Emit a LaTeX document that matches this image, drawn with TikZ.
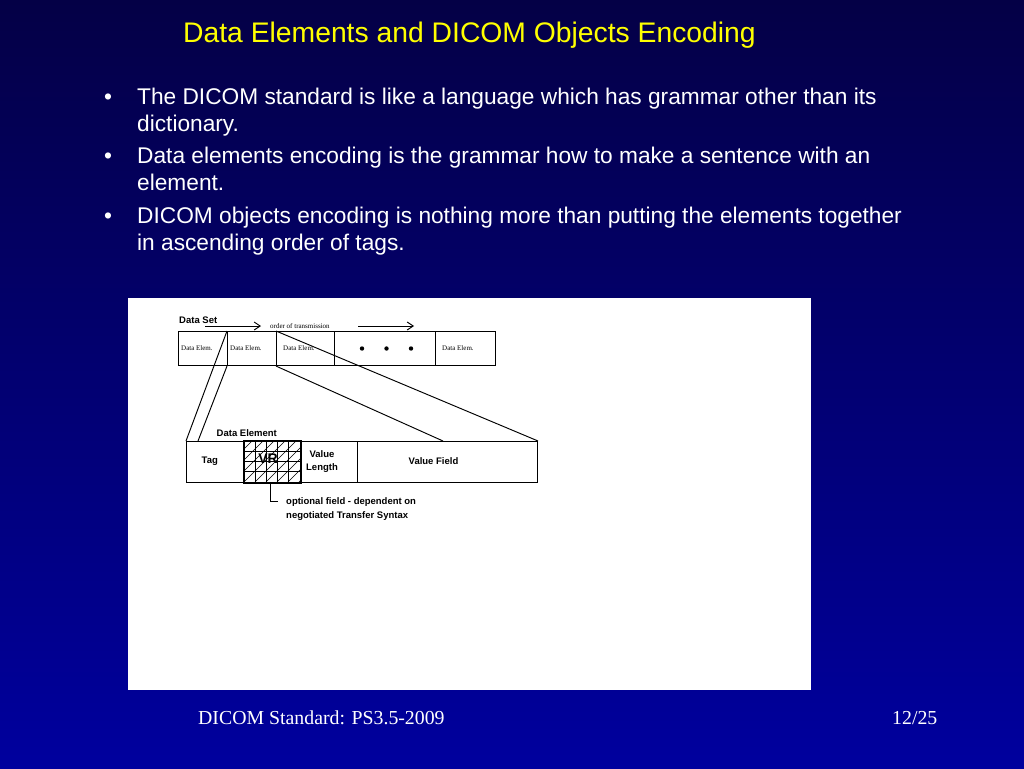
\documentclass[tikz,border=0pt]{standalone}
\usepackage{fontspec}
\setmainfont{Liberation Serif}
\setsansfont{Liberation Sans}
\usetikzlibrary{arrows.meta}
\definecolor{bgtop}{RGB}{4,0,70}
\definecolor{bgbot}{RGB}{0,0,158}
\definecolor{ttl}{RGB}{255,255,0}
\begin{document}
\begin{tikzpicture}[x=1pt,y=-1pt,
  cell/.style={draw=black, line width=1.05pt, rectangle, inner sep=0pt, anchor=north west},
  tiny/.style={font=\fontsize{7}{8}\selectfont\rmfamily, inner sep=0pt, anchor=base west},
  lab/.style={font=\fontsize{9.5}{11}\selectfont\sffamily\bfseries, inner sep=0pt},
  link/.style={draw=black, line width=0.95pt},
  body/.style={font=\fontsize{22.7}{27}\selectfont\sffamily, text=white, inner sep=0pt, anchor=base west},
  foot/.style={font=\fontsize{19.8}{24}\selectfont\rmfamily, text=white, inner sep=0pt, anchor=base west},
  hatch/.style={draw=black, line width=0.6pt},
]
\useasboundingbox (0,0) rectangle (1024,768);
\shade[top color=bgtop, bottom color=bgbot] (0,0) rectangle (1024,768);

% title
\node[anchor=base west, text=ttl, font=\fontsize{28.3}{30}\selectfont\sffamily, inner sep=0pt] (title) at (183,43) {Data Elements and DICOM Objects Encoding};

% bullets
\node[body] (b1) at (104,104) {\textbullet};
\node[body] (l1a) at (137,104) {The DICOM standard is like a language which has grammar other than its};
\node[body] (l1b) at (137,131) {dictionary.};
\node[body] (b2) at (104,163) {\textbullet};
\node[body] (l2a) at (137,163) {Data elements encoding is the grammar how to make a sentence with an};
\node[body] (l2b) at (137,190) {element.};
\node[body] (b3) at (104,223) {\textbullet};
\node[body] (l3a) at (137,223) {DICOM objects encoding is nothing more than putting the elements together};
\node[body] (l3b) at (137,250) {in ascending order of tags.};

% white panel
\node[fill=white, draw=none, inner sep=0pt, anchor=north west, minimum width=683pt, minimum height=392pt] (panel) at (128,298) {};

% data set row
\node[lab, anchor=base west] (ds) at (179,323.5) {Data Set};
\coordinate (a1s) at (205,326); \coordinate (a1e) at (261,326);
\coordinate (a2s) at (358,326); \coordinate (a2e) at (414,326);
\draw[link, -{Straight Barb[length=6pt,width=8pt]}] (a1s) -- (a1e);
\draw[link, -{Straight Barb[length=6pt,width=8pt]}] (a2s) -- (a2e);
\node[tiny] (ord) at (270,328.5) {order of transmission};

\node[cell, minimum width=49pt, minimum height=34pt] (c1) at (178,331) {};
\node[cell, minimum width=49pt, minimum height=34pt] (c2) at (227,331) {};
\node[cell, minimum width=58pt, minimum height=34pt] (c3) at (276,331) {};
\node[cell, minimum width=101pt, minimum height=34pt] (c4) at (334,331) {};
\node[cell, minimum width=60pt, minimum height=34pt] (c5) at (435,331) {};
\node[tiny] (t1) at (181,350) {Data Elem.};
\node[tiny] (t2) at (230,350) {Data Elem.};
\node[tiny] (t3) at (283,350) {Data Elem.};
\node[tiny] (t5) at (442,350) {Data Elem.};
\fill (362,348.5) circle (2.2pt);
\fill (386.5,348.5) circle (2.2pt);
\fill (411,348.5) circle (2.2pt);

% data element row
\node[lab, anchor=base west] (delab) at (216.5,436.5) {Data Element};
\node[cell, minimum width=58pt, minimum height=41pt] (tag) at (186,441) {};
\node[cell, minimum width=56pt, minimum height=41pt] (vr) at (244,441) {};
\node[cell, minimum width=57pt, minimum height=41pt] (vl) at (300,441) {};
\node[cell, minimum width=180pt, minimum height=41pt] (vf) at (357,441) {};

\begin{scope}
  \clip (244,441) rectangle (300,482);
  \foreach \k in {-4,...,5} \draw[hatch] (244+\k*11,482) -- ++(41,-41);
  \foreach \x in {255,266,277,288} \draw[hatch] (\x,441) -- (\x,482);
  \foreach \y in {451,461,471} \draw[hatch] (244,\y) -- (300,\y);
\end{scope}
\draw[line width=1.9pt] (vr.north west) rectangle (vr.south east);

\node[lab, anchor=base west] (tagt) at (201.5,463) {Tag};
\node[font=\fontsize{14}{14}\selectfont\sffamily\bfseries, inner sep=0pt] (vrt) at (268,459) {VR};
\node[lab, anchor=base] (vlt1) at (322,457) {Value};
\node[lab, anchor=base] (vlt2) at (322,470.5) {Length};
\node[lab, anchor=base] (vft) at (433.5,464.5) {Value Field};

% connectors between rows
\coordinate (p2) at (198,441);
\coordinate (p4) at (443,441);
\draw[link] (c2.north west) -- (tag.north west);
\draw[link] (c2.south west) -- (p2);
\draw[link] (c3.north west) -- (vf.north east);
\draw[link] (c3.south west) -- (p4);

% callout
\coordinate (cs) at (270,482);
\coordinate (cb) at (270,501);
\coordinate (ce) at (278,501);
\draw[link] (cs) -- (cb) -- (ce);
\node[lab, anchor=base west] (opt1) at (286,504.5) {optional field - dependent on};
\node[lab, anchor=base west] (opt2) at (286,518) {negotiated Transfer Syntax};

% footer
\node[foot] (f1) at (198,724) {DICOM Standard: PS3.5-2009};
\node[foot] (f2) at (892,724) {12/25};
\end{tikzpicture}
\end{document}
